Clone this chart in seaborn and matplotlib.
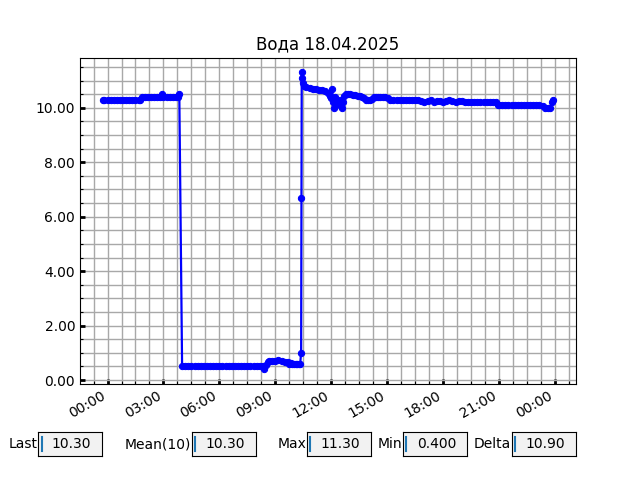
import pandas as pd
import matplotlib
matplotlib.use('Agg')
import matplotlib.pyplot as plt
import matplotlib.dates as mdates
from matplotlib.ticker import MultipleLocator, FormatStrFormatter
import seaborn as sns

# Minutes from 18.04.2025 00:00 and water readings
minutes = [-16, -10, 0, 10, 20, 30, 40, 50, 60, 70, 80, 90, 100, 104,
           110, 120, 130, 140, 150, 160, 170, 176, 180, 190, 200, 210, 220, 226, 231,
           240, 250, 260, 270, 280, 290, 300, 310, 320, 330, 340, 350, 360, 370,
           380, 390, 400, 410, 420, 430, 440, 450, 460, 470, 480, 490, 500,
           505, 510, 515, 520, 530, 540, 550, 560, 570, 580, 585, 590,
           595, 600, 605, 610, 615, 620, 623, 624, 625, 626, 628, 632,
           640, 650, 660, 670, 680, 690, 700, 710, 717, 720, 723, 726, 730,
           733, 736, 742, 749, 752, 755, 759, 762, 768, 775, 781, 790, 797,
           805, 813, 820, 826, 833, 839, 845, 852, 858, 865, 870, 877, 885,
           894, 903, 910, 920, 930, 940, 950, 960, 970, 980, 990, 1000,
           1010, 1020, 1030, 1040, 1050, 1060, 1070, 1080, 1090, 1100, 1110,
           1120, 1130, 1140, 1150, 1160, 1170, 1180, 1190, 1200, 1210, 1220,
           1230, 1240, 1250, 1257, 1260, 1270, 1280, 1290, 1300, 1310, 1320,
           1330, 1340, 1350, 1360, 1370, 1380, 1390, 1400, 1408, 1416, 1424,
           1430, 1435]
values = [10.3, 10.3, 10.3, 10.3, 10.3, 10.3, 10.3, 10.3, 10.3, 10.3, 10.3, 10.3, 10.3, 10.3,
          10.4, 10.4, 10.4, 10.4, 10.4, 10.4, 10.4, 10.5, 10.4, 10.4, 10.4, 10.4, 10.4, 10.4, 10.5,
          0.5, 0.5, 0.5, 0.5, 0.5, 0.5, 0.5, 0.5, 0.5, 0.5, 0.5, 0.5, 0.5, 0.5,
          0.5, 0.5, 0.5, 0.5, 0.5, 0.5, 0.5, 0.5, 0.5, 0.5, 0.5, 0.5, 0.5,
          0.4, 0.55, 0.65, 0.7, 0.7, 0.7, 0.72, 0.7, 0.68, 0.65, 0.6, 0.62,
          0.6, 0.6, 0.6, 0.6, 0.6, 0.6, 1.0, 6.7, 11.3, 11.1, 10.9, 10.8,
          10.78, 10.72, 10.7, 10.68, 10.65, 10.65, 10.6, 10.55, 10.45, 10.35, 10.7, 10.2, 10.0,
          10.4, 10.25, 10.15, 10.3, 10.05, 10.0, 10.2, 10.45, 10.5, 10.5, 10.5, 10.48, 10.47,
          10.45, 10.45, 10.4, 10.35, 10.3, 10.3, 10.3, 10.32, 10.38, 10.4, 10.4, 10.4, 10.4,
          10.4, 10.35, 10.3, 10.3, 10.3, 10.3, 10.3, 10.3, 10.3, 10.3, 10.3, 10.3,
          10.25, 10.22, 10.25, 10.28, 10.22, 10.25, 10.25, 10.22, 10.25, 10.27, 10.25,
          10.22, 10.25, 10.25, 10.2, 10.2, 10.2, 10.2, 10.2, 10.2, 10.2, 10.2,
          10.2, 10.2, 10.2, 10.1, 10.1, 10.1, 10.1, 10.1, 10.1, 10.1, 10.1,
          10.1, 10.1, 10.1, 10.1, 10.1, 10.1, 10.1, 10.05, 10.0, 10.0, 10.0,
          10.2, 10.3]

box_labels = ['Last', 'Mean(10)', 'Max', 'Min', 'Delta']
box_values = ['10.30', '10.30', '11.30', '0.400', '10.90']
box_left = [0.06, 0.30, 0.48, 0.63, 0.80]

times = pd.Timestamp('2025-04-18') + pd.to_timedelta(minutes, unit='min')

fig, ax = plt.subplots(figsize=(6.4, 4.8), dpi=100)
sns.lineplot(x=times, y=values, ax=ax, color='blue', marker='o', markersize=4.5,
             markeredgecolor='blue', linewidth=1.6, zorder=3)

ax.set_title('Вода 18.04.2025')
ax.set_xlabel('')
ax.set_ylabel('')

# 3h major / 45min minor on date axis
ax.xaxis.set_major_locator(MultipleLocator(0.125))
ax.xaxis.set_minor_locator(MultipleLocator(0.03125))
ax.xaxis.set_major_formatter(mdates.DateFormatter('%H:%M'))
ax.yaxis.set_major_locator(MultipleLocator(2))
ax.yaxis.set_minor_locator(MultipleLocator(0.5))
ax.yaxis.set_major_formatter(FormatStrFormatter('%.2f'))

ax.tick_params(which='major', direction='in', length=3.5, width=2)
ax.tick_params(which='minor', direction='in', length=2.5, width=0.8)
ax.grid(True, which='both', color='#a8a8a8', linewidth=1, zorder=0)
ax.set_axisbelow(True)
fig.autofmt_xdate()

# value boxes at the bottom
for lab, val, left in zip(box_labels, box_values, box_left):
    bax = fig.add_axes([left, 0.05, 0.1, 0.05])
    bax.set_facecolor('.95')
    bax.set_xticks([])
    bax.set_yticks([])
    bax.set_xlim(0, 1)
    bax.set_ylim(0, 1)
    bax.text(-0.01, 0.5, lab, ha='right', va='center', transform=bax.transAxes)
    bax.text(0.21, 0.5, val, ha='left', va='center', transform=bax.transAxes)
    bax.plot([0.05, 0.05], [0.2, 0.8], color='#1f77b4', linewidth=1.5)

fig.savefig('out.png', dpi=100)
